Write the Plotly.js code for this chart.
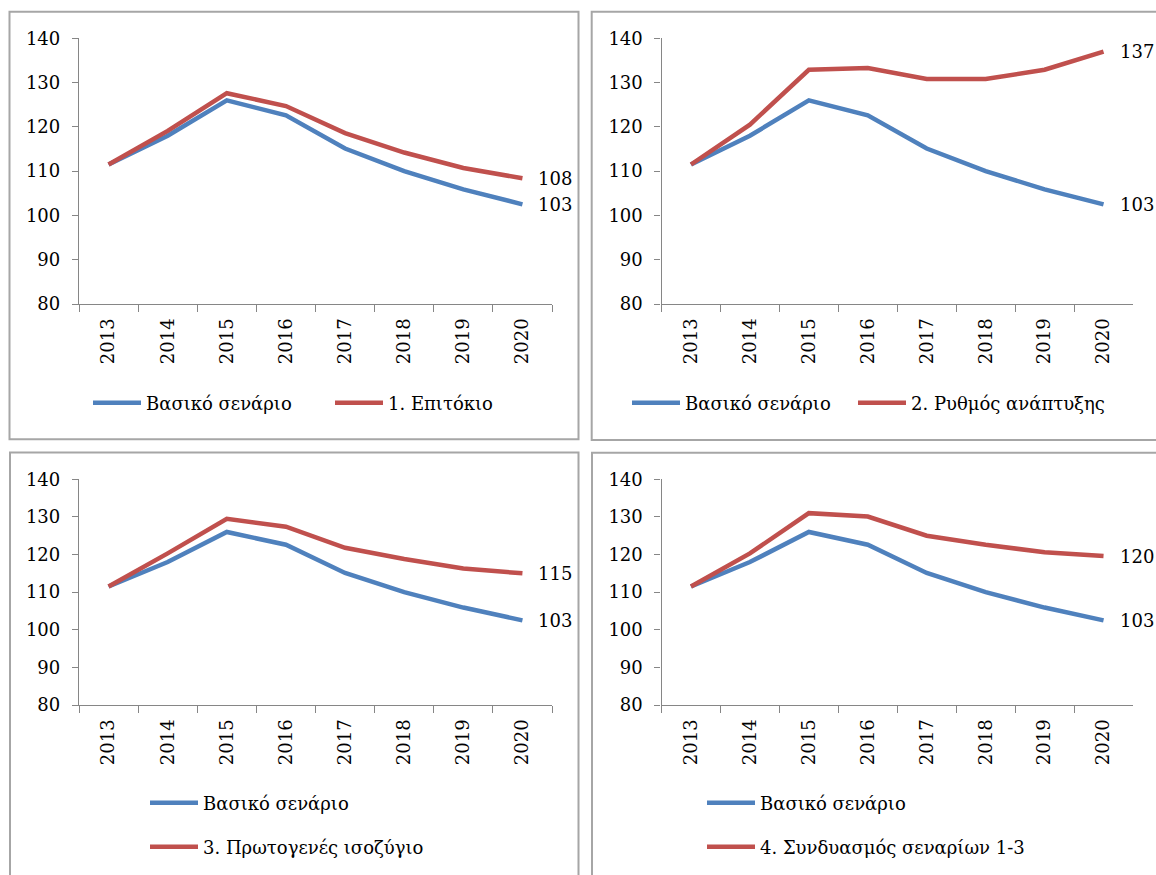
<!DOCTYPE html>
<html>
<head>
<meta charset="utf-8">
<script src="https://cdn.plot.ly/plotly-3.0.1.min.js"></script>
<style>
html,body{margin:0;padding:0;background:#fff;overflow:hidden;}
#chart{width:1156px;height:875px;}
</style>
</head>
<body>
<div id="chart"></div>
<script>
// ---- data ----
const years = ["2013","2014","2015","2016","2017","2018","2019","2020"];
const baseName = "Βασικό σενάριο";
const baseValues = [111.5, 118.0, 126.0, 122.6, 115.1, 110.0, 105.9, 102.5];
const scenarioNames = ["1. Επιτόκιο", "2. Ρυθμός ανάπτυξης", "3. Πρωτογενές ισοζύγιο", "4. Συνδυασμός σεναρίων 1-3"];
const scenario1 = [111.5, 119.1, 127.6, 124.7, 118.6, 114.2, 110.7, 108.4];
const scenario2 = [111.5, 120.5, 132.9, 133.3, 130.8, 130.8, 132.9, 137.0];
const scenario3 = [111.5, 120.3, 129.5, 127.4, 121.8, 118.8, 116.3, 115.0];
const scenario4 = [111.5, 120.3, 131.0, 130.1, 125.0, 122.6, 120.6, 119.6];
const yTicks = [80, 90, 100, 110, 120, 130, 140];

// ---- layout helpers ----
const W = 1156, H = 875;
const px = v => v / W;
const py = v => 1 - v / H;
const FONT = "DejaVu Serif";
const FS = 18;
const BLUE = "#4F81BD", RED = "#C0504D", AXIS = "#868686";

const scenarios = [scenario1, scenario2, scenario3, scenario4];
const panels = [
  {xd:[79,552],  yd:[38.3,304], box:[9.5,11.7,578.5,439.3],
   leg:[{x:88, y:403}, {x:330, y:403}]},
  {xd:[661.5,1133], yd:[38.3,304], box:[591.7,11.7,1160,440],
   leg:[{x:627, y:403}, {x:853, y:403}]},
  {xd:[79,552],  yd:[479.3,705], box:[10,452.5,578.5,880],
   leg:[{x:145, y:803}, {x:145, y:847}]},
  {xd:[661.5,1133], yd:[479.3,705], box:[592,452.7,1160,880],
   leg:[{x:702, y:803}, {x:702, y:847}]}
];

const traces = [];
const layout = {
  width: W, height: H,
  margin: {l:0, r:0, t:0, b:0, autoexpand:false},
  paper_bgcolor: "#fff", plot_bgcolor: "rgba(0,0,0,0)",
  font: {family: FONT, size: FS, color: "#000"},
  showlegend: true,
  shapes: [], annotations: []
};

let legCount = 0;
function addLegend(pos) {
  legCount++;
  const id = "legend" + (legCount === 1 ? "" : legCount);
  layout[id] = {
    orientation: "v",
    x: px(pos.x), y: py(pos.y), xanchor: "left", yanchor: "middle",
    bgcolor: "rgba(0,0,0,0)", borderwidth: 0,
    font: {family: FONT, size: FS, color: "#000"},
    itemwidth: 48, itemclick: false, itemdoubleclick: false
  };
  return id;
}

panels.forEach((p, i) => {
  const n = i + 1;
  const xa = "x" + (n === 1 ? "" : n), ya = "y" + (n === 1 ? "" : n);
  const xkey = "xaxis" + (n === 1 ? "" : n), ykey = "yaxis" + (n === 1 ? "" : n);
  traces.push({
    x: years, y: baseValues, name: baseName, type: "scatter", mode: "lines",
    xaxis: xa, yaxis: ya, legend: addLegend(p.leg[0]),
    line: {color: BLUE, width: 4.5}, hoverinfo: "x+y"
  });
  traces.push({
    x: years, y: scenarios[i], name: scenarioNames[i], type: "scatter", mode: "lines",
    xaxis: xa, yaxis: ya, legend: addLegend(p.leg[1]),
    line: {color: RED, width: 4.5}, hoverinfo: "x+y"
  });
  layout[xkey] = {
    domain: [px(p.xd[0]), px(p.xd[1])],
    anchor: ya, type: "category", range: [-0.5, years.length - 0.5],
    showline: true, linecolor: AXIS, linewidth: 1.3,
    ticks: "outside", ticklen: 7, tickcolor: AXIS, tickwidth: 1.3,
    tickson: "boundaries", tickangle: -90, ticklabelstandoff: 6,
    showgrid: false, zeroline: false,
    tickfont: {family: FONT, size: FS, color: "#000"}
  };
  layout[ykey] = {
    domain: [py(p.yd[1]), py(p.yd[0])],
    anchor: xa, range: [80, 140], tickvals: yTicks,
    showline: true, linecolor: AXIS, linewidth: 1.3,
    ticks: "outside", ticklen: 6, tickcolor: AXIS, tickwidth: 1.3,
    ticklabelstandoff: 8,
    showgrid: false, zeroline: false,
    tickfont: {family: FONT, size: FS, color: "#000"}
  };
  // panel border
  layout.shapes.push({
    type: "rect", xref: "paper", yref: "paper",
    x0: px(p.box[0]), x1: px(p.box[2]), y0: py(p.box[1]), y1: py(p.box[3]),
    line: {color: "#a6a6a6", width: 2}, fillcolor: "rgba(0,0,0,0)", layer: "below"
  });
  // end-value labels (placed at the last category index)
  [baseValues, scenarios[i]].forEach(arr => {
    const last = arr[arr.length - 1];
    layout.annotations.push({
      xref: xa, yref: ya, x: years.length - 1, y: last,
      text: String(Math.round(last)), showarrow: false,
      xanchor: "left", yanchor: "middle", xshift: 14,
      font: {family: FONT, size: FS, color: "#000"}
    });
  });
});

Plotly.newPlot("chart", traces, layout, {displayModeBar: false});
</script>
</body>
</html>
